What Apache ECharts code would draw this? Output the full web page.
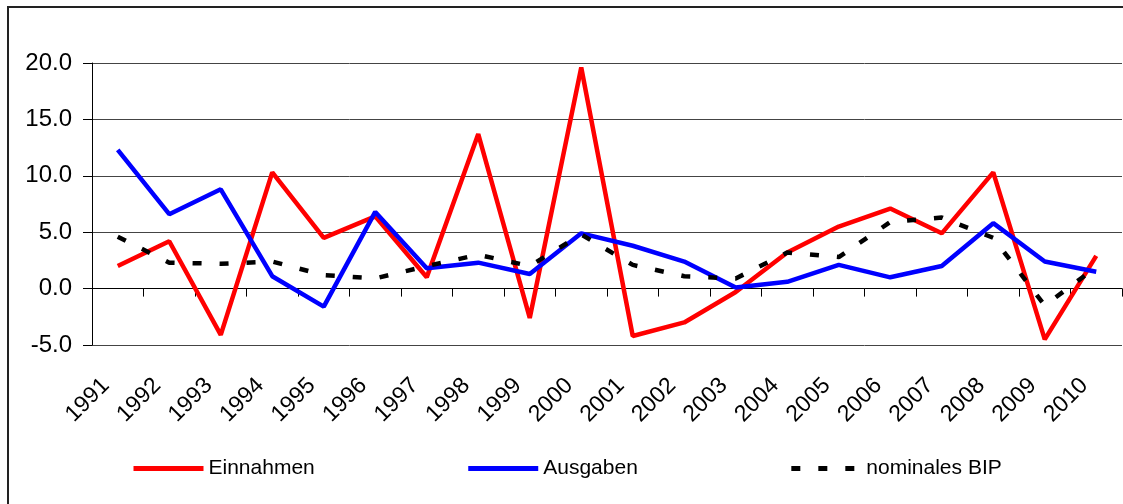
<!DOCTYPE html>
<html>
<head>
<meta charset="utf-8">
<script src="https://cdn.jsdelivr.net/npm/echarts@6/dist/echarts.min.js"></script>
<style>
  html, body { margin: 0; padding: 0; background: #fff; }
  #chart { width: 1123px; height: 504px; }
</style>
</head>
<body>
<div id="chart"></div>
<script>
const years = ['1991', '1992', '1993', '1994', '1995', '1996', '1997', '1998', '1999', '2000',
  '2001', '2002', '2003', '2004', '2005', '2006', '2007', '2008', '2009', '2010']
const einnahmen = [2.0, 4.2, -4.1, 10.3, 4.5, 6.4, 1.0, 13.7, -2.6, 19.6, -4.2, -3.0, -0.3, 3.2, 5.5, 7.1, 4.9, 10.3, -4.5, 2.9]
const ausgaben = [12.3, 6.6, 8.8, 1.1, -1.6, 6.8, 1.8, 2.3, 1.3, 4.9, 3.8, 2.4, 0.1, 0.6, 2.1, 1.0, 2.0, 5.8, 2.4, 1.5]
const bip = [4.6, 2.3, 2.2, 2.4, 1.2, 0.9, 2.0, 3.0, 2.0, 4.8, 2.1, 1.1, 0.9, 3.2, 2.8, 5.9, 6.3, 4.5, -1.5, 1.9]

const font = 'Liberation Sans, Arial, sans-serif'
const chart = echarts.init(document.getElementById('chart'))

chart.setOption({
  animation: false,
  textStyle: { fontFamily: font },
  graphic: [{
    type: 'rect',
    shape: { x: 8, y: 7, width: 1200, height: 600 },
    style: { fill: 'none', stroke: '#222', lineWidth: 2 },
    silent: true
  }],
  grid: { left: 92, right: 1, top: 63, bottom: 159 },
  legend: {
    left: 126,
    top: 453,
    itemWidth: 70,
    itemHeight: 14,
    itemGap: 151,
    itemStyle: { opacity: 0 },
    lineStyle: { width: 5 },
    textStyle: { fontSize: 21, color: '#000', fontFamily: font },
    data: ['Einnahmen', 'Ausgaben', 'nominales BIP']
  },
  xAxis: [
    {
      type: 'category',
      data: years,
      axisLine: { onZero: true, lineStyle: { color: '#000', width: 1 } },
      axisTick: { show: true, length: 8, lineStyle: { color: '#000' } },
      axisLabel: { show: false }
    },
    {
      type: 'category',
      data: years,
      position: 'bottom',
      axisLine: { show: false, onZero: false },
      axisTick: { show: false },
      axisLabel: {
        rotate: 45,
        margin: 25,
        fontSize: 23,
        color: '#000',
        fontFamily: font,
        interval: 0,
        padding: [0, 17, 0, 0]
      }
    }
  ],
  yAxis: {
    type: 'value',
    min: -5,
    max: 20,
    interval: 5,
    axisLine: { show: true, lineStyle: { color: '#000', width: 1 } },
    axisTick: { show: true, length: 9, lineStyle: { color: '#000' } },
    axisLabel: {
      margin: 20,
      fontSize: 24,
      color: '#000',
      fontFamily: font,
      formatter: v => v.toFixed(1)
    },
    splitLine: { lineStyle: { color: '#444', width: 1 } }
  },
  series: [
    {
      name: 'Einnahmen',
      type: 'line',
      xAxisIndex: 0,
      data: einnahmen,
      symbol: 'none',
      lineStyle: { color: '#ff0000', width: 4.5 },
      itemStyle: { color: '#ff0000' }
    },
    {
      name: 'Ausgaben',
      type: 'line',
      xAxisIndex: 0,
      data: ausgaben,
      symbol: 'none',
      lineStyle: { color: '#0000ff', width: 4.5 },
      itemStyle: { color: '#0000ff' }
    },
    {
      name: 'nominales BIP',
      type: 'line',
      xAxisIndex: 0,
      data: bip,
      symbol: 'none',
      lineStyle: { color: '#000', width: 4.5, type: [9, 18] },
      itemStyle: { color: '#000' }
    }
  ]
})
</script>
</body>
</html>
